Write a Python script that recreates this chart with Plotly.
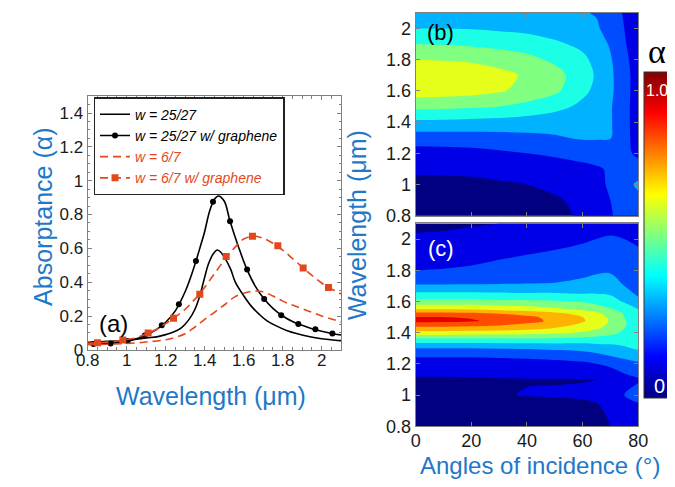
import plotly.graph_objects as go

# ---------------- Panel (a): absorptance spectra ----------------
lam_w25 = [0.8, 0.9, 1.0, 1.1, 1.16, 1.2, 1.24, 1.28, 1.32, 1.35, 1.375, 1.40, 1.42, 1.445, 1.465,
           1.48, 1.50, 1.533, 1.557, 1.6, 1.64, 1.68, 1.72, 1.77, 1.82, 1.88, 1.94, 2.0, 2.07, 2.1]
a_w25 = [0.045, 0.05, 0.057, 0.07, 0.078, 0.09, 0.105, 0.13, 0.18, 0.24, 0.32, 0.43, 0.51, 0.57, 0.59,
         0.58, 0.55, 0.477, 0.40, 0.32, 0.257, 0.21, 0.171, 0.14, 0.114, 0.093, 0.077, 0.066, 0.057, 0.055]

lam_w25g = [0.8, 0.9, 1.0, 1.05, 1.1, 1.15, 1.2, 1.25, 1.3, 1.34, 1.38, 1.40, 1.425, 1.45, 1.47,
            1.5, 1.53, 1.573, 1.615, 1.66, 1.705, 1.75, 1.8, 1.85, 1.9, 1.95, 2.0, 2.05, 2.1]
a_w25g = [0.033, 0.037, 0.05, 0.065, 0.088, 0.118, 0.163, 0.232, 0.345, 0.47, 0.62, 0.70, 0.82, 0.89, 0.91,
          0.88, 0.76, 0.61, 0.48, 0.375, 0.30, 0.245, 0.20, 0.168, 0.145, 0.125, 0.11, 0.097, 0.088]
lam_w25g_mk = [0.83, 0.9175, 1.005, 1.0925, 1.18, 1.2675, 1.355, 1.4425, 1.53, 1.6175, 1.705,
               1.7925, 1.88, 1.9675, 2.055]
a_w25g_mk = [0.035, 0.038, 0.052, 0.085, 0.145, 0.27, 0.525, 0.875, 0.76, 0.475, 0.30,
             0.205, 0.153, 0.122, 0.097]

lam_w67 = [0.8, 0.9, 1.0, 1.1, 1.2, 1.25, 1.3, 1.35, 1.4, 1.45, 1.5, 1.55, 1.6, 1.65, 1.7, 1.75,
           1.8, 1.85, 1.9, 1.95, 2.0, 2.05, 2.1]
a_w67 = [0.03, 0.033, 0.037, 0.046, 0.06, 0.074, 0.095, 0.135, 0.18, 0.222, 0.265, 0.31, 0.335, 0.347,
         0.343, 0.318, 0.288, 0.265, 0.243, 0.222, 0.20, 0.182, 0.165]

lam_w67g = [0.8, 0.85, 0.9, 0.95, 1.0, 1.05, 1.1, 1.15, 1.2, 1.25, 1.3, 1.35, 1.4, 1.45, 1.5, 1.55,
            1.6, 1.65, 1.7, 1.75, 1.8, 1.85, 1.9, 1.95, 2.0, 2.05, 2.1]
a_w67g = [0.038, 0.042, 0.046, 0.052, 0.06, 0.072, 0.094, 0.12, 0.155, 0.195, 0.24, 0.30, 0.37, 0.45,
          0.53, 0.60, 0.655, 0.672, 0.66, 0.63, 0.59, 0.54, 0.49, 0.44, 0.395, 0.36, 0.33]
lam_w67g_mk = [0.85, 0.98, 1.11, 1.24, 1.375, 1.51, 1.645, 1.775, 1.905, 2.035]
a_w67g_mk = [0.042, 0.058, 0.10, 0.187, 0.328, 0.552, 0.672, 0.615, 0.484, 0.368]

legend_names = ["<i>w = 25/27</i>",
                "<i>w = 25/27 w/ graphene</i>",
                "<span style='color:#e2481d'><i>w = 6/7</i></span>",
                "<span style='color:#e2481d'><i>w = 6/7 w/ graphene</i></span>"]

# ---------------- Panels (b), (c): absorptance vs angle & wavelength ----------------
angles = [0, 10, 20, 30, 40, 50, 60, 65, 70, 75, 80]

lam_b = [0.8, 0.9, 1.0, 1.1, 1.2, 1.3, 1.4, 1.5, 1.6, 1.7, 1.8, 1.9, 2.0, 2.1]
alpha_b = [
    [0.05, 0.05, 0.052, 0.056, 0.062, 0.08, 0.11, 0.14, 0.195, 0.22, 0.23],
    [0.06, 0.061, 0.063, 0.068, 0.075, 0.09, 0.12, 0.15, 0.20, 0.24, 0.27],
    [0.075, 0.077, 0.08, 0.09, 0.10, 0.12, 0.15, 0.18, 0.21, 0.26, 0.32],
    [0.115, 0.117, 0.12, 0.13, 0.14, 0.155, 0.175, 0.19, 0.21, 0.23, 0.24],
    [0.16, 0.163, 0.17, 0.185, 0.20, 0.215, 0.235, 0.24, 0.25, 0.225, 0.18],
    [0.25, 0.252, 0.256, 0.263, 0.275, 0.29, 0.31, 0.31, 0.305, 0.23, 0.16],
    [0.38, 0.378, 0.372, 0.365, 0.355, 0.345, 0.34, 0.33, 0.31, 0.23, 0.155],
    [0.53, 0.525, 0.515, 0.50, 0.47, 0.43, 0.38, 0.35, 0.31, 0.23, 0.155],
    [0.65, 0.645, 0.635, 0.61, 0.57, 0.52, 0.42, 0.38, 0.32, 0.235, 0.155],
    [0.68, 0.675, 0.66, 0.63, 0.585, 0.54, 0.44, 0.39, 0.32, 0.235, 0.155],
    [0.60, 0.595, 0.585, 0.56, 0.53, 0.48, 0.42, 0.375, 0.31, 0.225, 0.15],
    [0.50, 0.495, 0.485, 0.47, 0.45, 0.415, 0.38, 0.345, 0.29, 0.21, 0.14],
    [0.40, 0.40, 0.395, 0.385, 0.375, 0.36, 0.34, 0.31, 0.27, 0.20, 0.13],
    [0.33, 0.33, 0.33, 0.325, 0.32, 0.315, 0.305, 0.295, 0.25, 0.19, 0.12],
]

lam_c = [0.8, 0.9, 1.0, 1.1, 1.2, 1.25, 1.3, 1.35, 1.4, 1.425, 1.45, 1.475, 1.5, 1.525, 1.55,
         1.6, 1.65, 1.7, 1.8, 1.9, 2.0, 2.1]
alpha_c = [
    [0.04, 0.04, 0.045, 0.05, 0.055, 0.06, 0.07, 0.085, 0.10, 0.12, 0.13],
    [0.05, 0.05, 0.055, 0.06, 0.065, 0.07, 0.08, 0.09, 0.11, 0.15, 0.17],
    [0.065, 0.07, 0.08, 0.095, 0.103, 0.105, 0.108, 0.11, 0.14, 0.20, 0.23],
    [0.09, 0.09, 0.092, 0.095, 0.097, 0.097, 0.098, 0.10, 0.13, 0.17, 0.19],
    [0.15, 0.15, 0.15, 0.155, 0.16, 0.17, 0.18, 0.20, 0.22, 0.25, 0.28],
    [0.21, 0.21, 0.21, 0.215, 0.22, 0.23, 0.25, 0.27, 0.30, 0.33, 0.36],
    [0.30, 0.30, 0.30, 0.305, 0.31, 0.32, 0.33, 0.35, 0.37, 0.39, 0.41],
    [0.45, 0.45, 0.45, 0.45, 0.45, 0.45, 0.44, 0.44, 0.43, 0.43, 0.43],
    [0.66, 0.66, 0.655, 0.65, 0.64, 0.62, 0.59, 0.56, 0.53, 0.48, 0.44],
    [0.76, 0.76, 0.75, 0.74, 0.72, 0.69, 0.64, 0.61, 0.56, 0.50, 0.44],
    [0.84, 0.84, 0.83, 0.81, 0.78, 0.74, 0.68, 0.64, 0.58, 0.51, 0.44],
    [0.93, 0.925, 0.91, 0.875, 0.83, 0.78, 0.71, 0.66, 0.59, 0.51, 0.44],
    [0.90, 0.90, 0.89, 0.86, 0.82, 0.77, 0.70, 0.65, 0.58, 0.50, 0.43],
    [0.82, 0.82, 0.81, 0.79, 0.76, 0.72, 0.66, 0.62, 0.56, 0.49, 0.42],
    [0.70, 0.70, 0.69, 0.67, 0.65, 0.62, 0.58, 0.55, 0.51, 0.46, 0.40],
    [0.53, 0.53, 0.53, 0.525, 0.52, 0.51, 0.49, 0.47, 0.44, 0.39, 0.33],
    [0.42, 0.42, 0.42, 0.415, 0.41, 0.41, 0.40, 0.40, 0.39, 0.35, 0.28],
    [0.31, 0.31, 0.31, 0.31, 0.31, 0.31, 0.32, 0.33, 0.34, 0.30, 0.24],
    [0.20, 0.205, 0.215, 0.23, 0.245, 0.26, 0.28, 0.29, 0.29, 0.26, 0.22],
    [0.15, 0.155, 0.165, 0.185, 0.20, 0.215, 0.235, 0.25, 0.26, 0.23, 0.21],
    [0.11, 0.113, 0.12, 0.135, 0.15, 0.165, 0.185, 0.20, 0.21, 0.20, 0.19],
    [0.085, 0.088, 0.094, 0.10, 0.11, 0.12, 0.14, 0.155, 0.165, 0.16, 0.15],
]

# ---------------- styling ----------------
W, H = 675, 487
FONT = "Liberation Sans, Arial, sans-serif"
BLUE = "#1f78c8"
RED = "#e2481d"
FRAME = "#808080"


def px(x):
    return x / W


def py(y):
    return 1 - y / H


def jet(t):
    def c(v):
        return int(round(255 * min(max(v, 0.0), 1.0)))
    return "rgb(%d,%d,%d)" % (c(1.5 - abs(4 * t - 3)), c(1.5 - abs(4 * t - 2)), c(1.5 - abs(4 * t - 1)))


# filled bands coloured like MATLAB contourf (band above level L gets jet(L))
band_cs = [[0.0, jet(0.0)]] + [[(k + 1) / 11, jet(k / 10)] for k in range(10)] + [[1.0, jet(0.9)]]
jet_cs = [[k / 8, jet(k / 8)] for k in range(9)]

fig = go.Figure()

# panel (a) traces
fig.add_trace(go.Scatter(x=lam_w25, y=a_w25, mode="lines", line=dict(color="black", width=1.6, shape="spline"),
                         name=legend_names[0], xaxis="x", yaxis="y"))
fig.add_trace(go.Scatter(x=lam_w25g, y=a_w25g, mode="lines", line=dict(color="black", width=1.6, shape="spline"),
                         showlegend=False, xaxis="x", yaxis="y"))
fig.add_trace(go.Scatter(x=lam_w25g_mk, y=a_w25g_mk, mode="markers", marker=dict(color="black", size=6),
                         showlegend=False, xaxis="x", yaxis="y"))
fig.add_trace(go.Scatter(x=[None], y=[None], mode="lines+markers", line=dict(color="black", width=1.6),
                         marker=dict(color="black", size=6), name=legend_names[1], xaxis="x", yaxis="y"))
fig.add_trace(go.Scatter(x=lam_w67, y=a_w67, mode="lines",
                         line=dict(color=RED, width=1.6, shape="spline", dash="8px,5px"),
                         name=legend_names[2], xaxis="x", yaxis="y"))
fig.add_trace(go.Scatter(x=lam_w67g, y=a_w67g, mode="lines",
                         line=dict(color=RED, width=1.6, shape="spline", dash="8px,5px"),
                         showlegend=False, xaxis="x", yaxis="y"))
fig.add_trace(go.Scatter(x=lam_w67g_mk, y=a_w67g_mk, mode="markers",
                         marker=dict(color=RED, size=7, symbol="square"),
                         showlegend=False, xaxis="x", yaxis="y"))
fig.add_trace(go.Scatter(x=[None], y=[None], mode="lines+markers",
                         line=dict(color=RED, width=1.6, dash="8px,5px"),
                         marker=dict(color=RED, size=7, symbol="square"),
                         name=legend_names[3], xaxis="x", yaxis="y"))

# panels (b), (c) contour maps
contour_common = dict(x=angles, colorscale=band_cs, autocontour=False,
                      contours=dict(start=0, end=1.0, size=0.1, coloring="fill", showlines=False),
                      line=dict(width=0, smoothing=1.0), showscale=False, hoverinfo="skip")
fig.add_trace(go.Contour(y=lam_b, z=alpha_b, xaxis="x2", yaxis="y2", **contour_common))
fig.add_trace(go.Contour(y=lam_c, z=alpha_c, xaxis="x3", yaxis="y3", **contour_common))

# continuous colour bar
fig.add_trace(go.Scatter(
    x=[None], y=[None], mode="markers", xaxis="x3", yaxis="y3", showlegend=False, hoverinfo="skip",
    marker=dict(color=[0], cmin=0, cmax=1, colorscale=jet_cs, showscale=True,
                colorbar=dict(x=px(645.5), xanchor="left", y=py(231.5), yanchor="middle",
                              len=333 / H, lenmode="fraction", thickness=28, xpad=0, ypad=0,
                              outlinecolor="#333333", outlinewidth=1, showticklabels=False, ticks=""))))

axis_common = dict(showline=True, linecolor=FRAME, linewidth=1.2, mirror="allticks", ticks="inside",
                   tickcolor=FRAME, ticklen=4, showgrid=False, zeroline=False)
tf_a = dict(family=FONT, size=17, color="#1a1a1a")
tf_bc = dict(family=FONT, size=18, color="#1a1a1a")
minor = dict(ticks="inside", ticklen=2.5, tickcolor=FRAME)

fig.update_layout(
    width=W, height=H, margin=dict(l=0, r=0, t=0, b=0),
    paper_bgcolor="white", plot_bgcolor="white",
    xaxis=dict(domain=[px(70), px(332)], anchor="y", range=[0.8, 2.1], tick0=0.8, dtick=0.2,
               minor=dict(dtick=0.05, **minor), tickfont=tf_a, ticklabelstandoff=-5, **axis_common),
    yaxis=dict(domain=[py(349), py(90)], anchor="x", range=[0, 1.5], tick0=0, dtick=0.2,
               minor=dict(dtick=0.05, **minor), tickfont=tf_a, **axis_common),
    xaxis2=dict(domain=[px(409), px(639)], anchor="y2", range=[0, 80], dtick=20, showticklabels=False,
                **axis_common),
    yaxis2=dict(domain=[py(212), py(5)], anchor="x2", range=[0.8, 2.1], tick0=0.8, dtick=0.2,
                tickfont=tf_bc, **axis_common),
    xaxis3=dict(domain=[px(409), px(639)], anchor="y3", range=[0, 80], dtick=20, tickfont=tf_bc,
                ticklabelstandoff=-2, **axis_common),
    yaxis3=dict(domain=[py(427), py(220)], anchor="x3", range=[0.8, 2.1], tick0=0.8, dtick=0.2,
                tickfont=tf_bc, **axis_common),
    legend=dict(x=px(76), y=py(91), xanchor="left", yanchor="top", bgcolor="white",
                bordercolor="#222222", borderwidth=1.5, font=dict(family=FONT, size=14, color="black"),
                tracegroupgap=0, itemwidth=30),
    showlegend=True,
)


def ann(text, x, y, size, color, angle=0, family=FONT):
    fig.add_annotation(text=text, x=px(x), y=py(y), xref="paper", yref="paper", showarrow=False,
                       xanchor="center", yanchor="middle", textangle=angle,
                       font=dict(family=family, size=size, color=color))


ann("Absorptance (α)", 23, 213, 25, BLUE, angle=-90)
ann("Wavelength (μm)", 197, 396, 25, BLUE)
ann("Wavelength (μm)", 349, 222, 25, BLUE, angle=-90)
ann("Angles of incidence (°)", 538, 467, 24, BLUE)
ann("(a)", 97, 322, 24, "black")
ann("(b)", 435, 25, 22, "black")
ann("(c)", 435, 246, 22, "white")
ann("α", 658, 44, 34, "black", family="Liberation Serif, DejaVu Serif, serif")
ann("1.0", 658, 84, 16, "white")
ann("0", 661, 386, 20, "white")

fig.write_html("out.html")
